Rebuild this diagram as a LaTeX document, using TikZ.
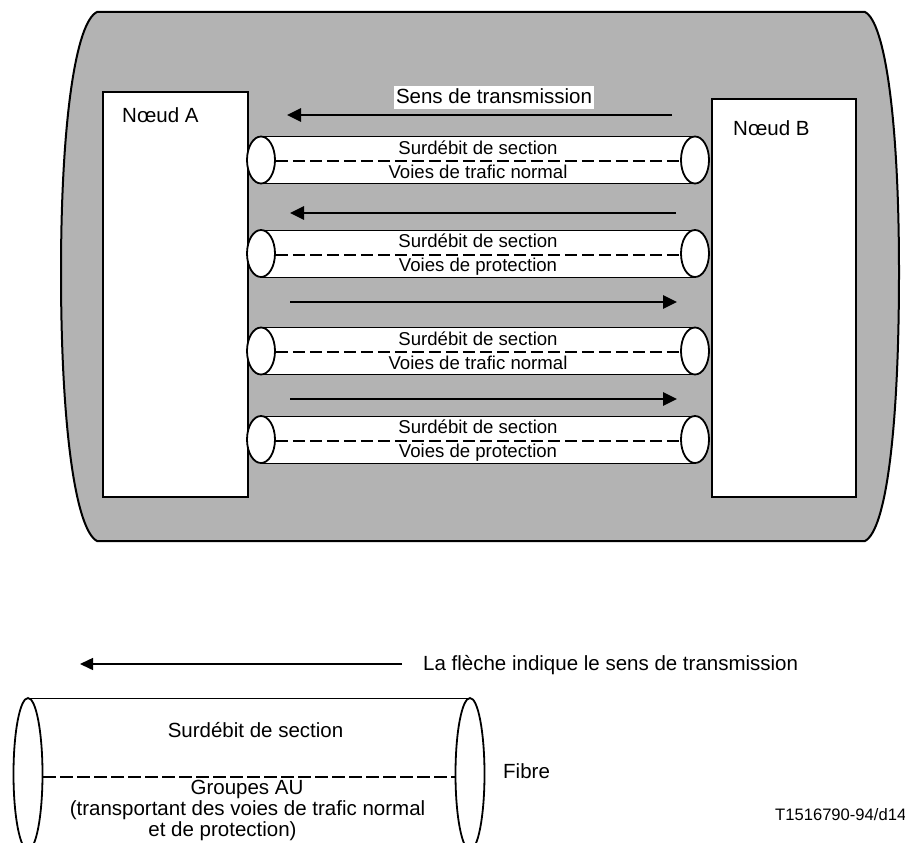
\documentclass[tikz,border=0pt]{standalone}
\usepackage{fontspec}
\setmainfont{Liberation Sans}
\usetikzlibrary{arrows.meta,shapes.geometric}
\definecolor{shelfgray}{RGB}{179,179,179}
\begin{document}
\begin{tikzpicture}[x=1pt,y=-1pt,
  bigtext/.style={font=\fontsize{20.5}{24}\selectfont, inner sep=0pt},
  smalltext/.style={font=\fontsize{18.6}{22}\selectfont, inner sep=0pt},
  nodebox/.style={draw, line width=1.5pt, fill=white, inner sep=0pt, anchor=north west},
  tubeend/.style={draw, ellipse, line width=1.8pt, fill=white, inner sep=0pt,
                  minimum width=28pt, minimum height=47pt},
  bigend/.style={draw, ellipse, line width=1.8pt, fill=white, inner sep=0pt,
                 minimum width=29pt, minimum height=152pt},
  tubeline/.style={line width=1pt},
  sepline/.style={line width=2pt, dash pattern=on 12.5pt off 4.5pt},
  flow/.style={line width=2.6pt, -{Triangle[length=14pt,width=13pt]}},
  keyflow/.style={line width=1.5pt, -{Triangle[length=13pt,width=12pt]}}
]
\useasboundingbox (0,0) rectangle (905,843);
\clip (0,0) rectangle (905,843);

% grey network region
\draw[line width=2pt, fill=shelfgray]
  (97,12) -- (865,12)
  .. controls (885,22) and (899,120) .. (899,272)
  .. controls (899,430) and (886,530) .. (865,541)
  -- (97,541)
  .. controls (76,530) and (61,430) .. (61,272)
  .. controls (61,120) and (76,22) .. (97,12) -- cycle;

% nodes
\node[nodebox, minimum width=145pt, minimum height=405pt] (A) at (102,91) {};
\node[nodebox, minimum width=144pt, minimum height=398pt] (B) at (711,98) {};
\node[bigtext, anchor=base west] (Alab) at (122,122) {Nœud A};
\node[bigtext, anchor=base west] (Blab) at (733,135) {Nœud B};

% fibres between the nodes
\foreach \c/\lab/\i in {160/Voies de trafic normal/1,
                        253.5/Voies de protection/2,
                        351/Voies de trafic normal/3,
                        439.5/Voies de protection/4}{
  \fill[white] (261,\c-23.5) rectangle (695,\c+23.5);
  \draw[tubeline] (261,\c-23.5) -- (695,\c-23.5) (261,\c+23.5) -- (695,\c+23.5);
  \node[tubeend] (l\i) at (261,\c) {};
  \node[tubeend] (r\i) at (695,\c) {};
  \draw[sepline] ([yshift=-1pt]l\i.east) -- ([yshift=-1pt]r\i.west);
  \node[smalltext, anchor=base] (s\i) at (478,\c-6) {Surdébit de section};
  \node[smalltext, anchor=base] (v\i) at (478,\c+18) {\lab};
}

% transmission directions
\coordinate (t1) at (672,115); \coordinate (h1) at (287,115);
\coordinate (t2) at (676,213); \coordinate (h2) at (290,213);
\coordinate (t3) at (290,302); \coordinate (h3) at (677,302);
\coordinate (t4) at (290,399); \coordinate (h4) at (677,399);
\draw[flow] (t1) -- (h1);
\draw[flow] (t2) -- (h2);
\draw[flow] (t3) -- (h3);
\draw[flow] (t4) -- (h4);
\node[bigtext, fill=white, inner xsep=2pt, inner ysep=3pt, text depth=0.2em]
  (sens) at (494,97.5) {Sens de transmission};

% key
\coordinate (kt) at (402,664); \coordinate (kh) at (80,664);
\draw[keyflow] (kt) -- (kh);
\node[bigtext, anchor=base west] (keytxt) at (423,670)
  {La flèche indique le sens de transmission};

\fill[white] (28,698) rectangle (470,850);
\draw[tubeline] (28,698) -- (470,698) (28,850) -- (470,850);
\node[bigend] (kl) at (28,774) {};
\node[bigend] (kr) at (470,774) {};
\draw[sepline] ([yshift=-3pt]kl.east) -- ([yshift=-3pt]kr.west);
\node[bigtext, anchor=base] (ks) at (255.5,737) {Surdébit de section};
\node[bigtext, anchor=base] (kg1) at (247,794) {Groupes AU};
\node[bigtext, anchor=base] (kg2) at (247.5,815) {(transportant des voies de trafic normal};
\node[bigtext, anchor=base] (kg3) at (222.5,836) {et de protection)};
\node[bigtext, anchor=base west] (fibre) at (503,778) {Fibre};
\node[font=\fontsize{16.6}{20}\selectfont, inner sep=0pt, anchor=base west]
  (ref) at (775,820) {T1516790-94/d14};
\end{tikzpicture}
\end{document}
